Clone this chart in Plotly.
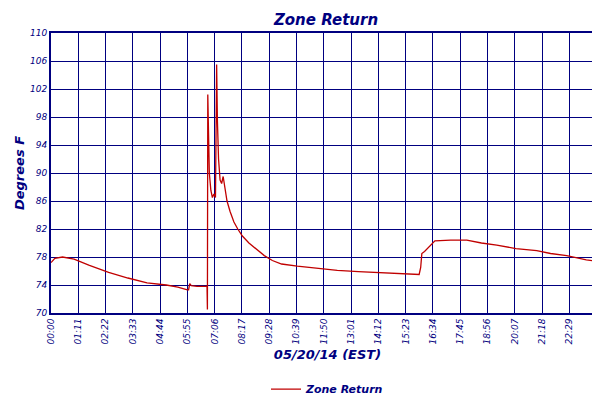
import plotly.graph_objects as go

# minutes since midnight and temperature (deg F)
minutes = [0, 10, 30, 60, 100, 150, 200, 250, 300, 330, 355, 358, 361, 365, 380, 406,
           407, 408, 410, 412, 416, 420, 424, 428, 430, 431, 433, 436, 440, 444, 448,
           452, 458, 466, 476, 486, 498, 515, 537, 555, 576, 600, 641, 700, 745, 800,
           874, 952, 958, 962, 965, 972, 985, 999, 1040, 1082, 1120, 1160, 1210, 1264,
           1300, 1342, 1393, 1420, 1439]
temps = [77.2, 77.8, 78.0, 77.7, 76.8, 75.8, 75.0, 74.3, 74.0, 73.7, 73.3, 73.3, 74.2,
         73.9, 73.8, 73.8, 70.5, 101.2, 95.5, 90.0, 87.5, 86.5, 87.0, 86.5, 99.0, 105.5,
         97.5, 92.0, 89.0, 88.5, 89.5, 88.0, 86.0, 84.5, 83.0, 82.0, 81.0, 80.0, 79.0,
         78.2, 77.5, 77.0, 76.7, 76.3, 76.1, 75.9, 75.7, 75.5, 75.5, 76.5, 78.5, 78.8,
         79.5, 80.3, 80.4, 80.4, 80.0, 79.7, 79.2, 78.9, 78.5, 78.2, 77.6, 77.4, 77.0]

tick_vals = [0, 71, 142, 213, 284, 355, 426, 497, 568, 639, 710, 781, 852, 923, 994,
             1065, 1136, 1207, 1278, 1349, 1420, 1439]
tick_text = ["00:00", "01:11", "02:22", "03:33", "04:44", "05:55", "07:06", "08:17",
             "09:28", "10:39", "11:50", "13:01", "14:12", "15:23", "16:34", "17:45",
             "18:56", "20:07", "21:18", "22:29", "23:40", "23:59"]
y_ticks = list(range(70, 111, 4))

navy = "#000080"
font = dict(family="DejaVu Sans", color=navy, size=9, style="italic")

fig = go.Figure(go.Scatter(x=minutes, y=temps, mode="lines", name="Zone Return",
                           line=dict(color="#c00000", width=1.3)))
fig.update_layout(
    width=600, height=400, paper_bgcolor="white", plot_bgcolor="white",
    margin=dict(l=43, r=4, t=25, b=78),
    title=dict(text="<b>Zone Return</b>", x=0.53, y=0.985, yanchor="top",
               font=dict(family="DejaVu Sans", color=navy, size=15, style="italic")),
    font=font, showlegend=True,
    legend=dict(orientation="h", x=0.5, xanchor="center", y=-0.22, yanchor="top",
                font=dict(family="DejaVu Sans", color=navy, size=11, style="italic", weight="bold")),
)
fig.update_xaxes(range=[0, 1439], tickvals=tick_vals, ticktext=tick_text, tickangle=-90,
                 showgrid=True, gridcolor=navy, gridwidth=1, showline=True, linecolor=navy,
                 linewidth=2, mirror=True, zeroline=False, automargin=False,
                 title=dict(text="<b>05/20/14 (EST)</b>",
                            font=dict(family="DejaVu Sans", color=navy, size=13, style="italic"),
                            standoff=6))
fig.update_yaxes(range=[70, 110], tickvals=y_ticks, showgrid=True, gridcolor=navy,
                 gridwidth=1, showline=True, linecolor=navy, linewidth=2, mirror=True,
                 zeroline=False, automargin=False,
                 title=dict(text="<b>Degrees F</b>",
                            font=dict(family="DejaVu Sans", color=navy, size=13, style="italic"),
                            standoff=2))
fig.write_html("out.html")
